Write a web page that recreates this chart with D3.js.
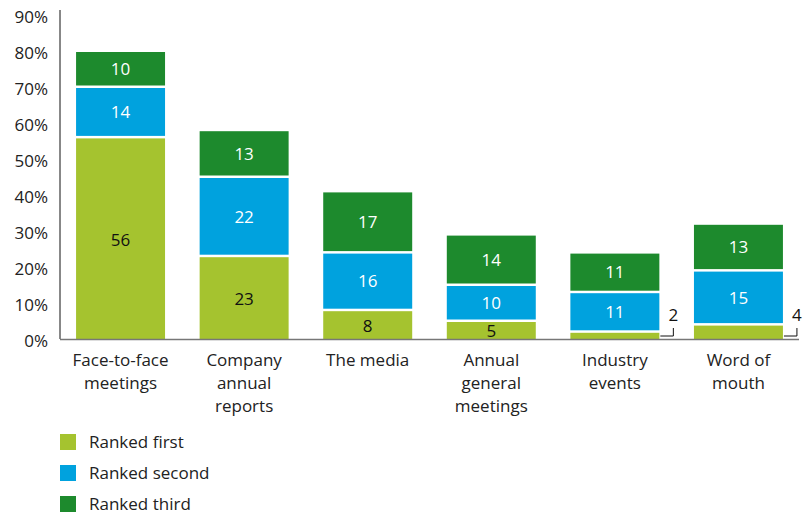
<!DOCTYPE html>
<html><head><meta charset="utf-8">
<script src="https://cdn.jsdelivr.net/npm/d3@7"></script>
<style>body{margin:0;background:#fff}svg{display:block}text{font-family:"Open Sans","Noto Sans",sans-serif}</style>
</head><body><svg id="c" width="811" height="515"></svg>
<script>
const categories = ["Face-to-face\nmeetings","Company\nannual\nreports","The media","Annual\ngeneral\nmeetings","Industry\nevents","Word of\nmouth"];
const seriesNames = ["Ranked first","Ranked second","Ranked third"];
const rankedFirst = [56,23,8,5,2,4];
const rankedSecond = [14,22,16,10,11,15];
const rankedThird = [10,13,17,14,11,13];
const yTicks = [0,10,20,30,40,50,60,70,80,90];
const colors = ["#a5c32f","#00a2de","#1d8a2d"];
const textColors = ["#111","#fff","#fff"];

const svg = d3.select("#c");
const m = {l:60, r:799, t:15, b:339};
const x = d3.scaleBand().domain(categories).range([m.l, m.r]).paddingInner(0.28).paddingOuter(0.13);
const y = d3.scaleLinear().domain([0,90]).range([m.b, m.t]);

const data = categories.map((c,i)=>({cat:c, s0:rankedFirst[i], s1:rankedSecond[i], s2:rankedThird[i]}));
const stack = d3.stack().keys(["s0","s1","s2"])(data);

const g = svg.append("g");
stack.forEach((layer,si)=>{
  layer.forEach((d,i)=>{
    const x0 = x(categories[i]), w = x.bandwidth();
    const y0 = y(d[0]), y1 = y(d[1]);
    const gapB = si===0 ? 0 : 1.5, gapT = 1;
    g.append("rect").attr("x",x0).attr("width",w)
      .attr("y",y1+gapT).attr("height",Math.max(0,y0-y1-gapT-gapB))
      .attr("fill",colors[si]);
    const v = d[1]-d[0];
    if (v >= 5) {
      g.append("text").attr("x",x0+w/2).attr("y",(y0+y1)/2+ (si===0?1.5:0)).attr("dy","0.35em")
        .attr("text-anchor","middle").attr("font-size",17).attr("fill",textColors[si]).text(v);
    } else {
      const bx = x0+w+1, by = y(0)-3;
      g.append("path").attr("d",`M${bx},${by}H${bx+13}V${by-8}`).attr("fill","none").attr("stroke","#111").attr("stroke-width",1);
      g.append("text").attr("x",bx+13).attr("y",by-21).attr("dy","0.35em")
        .attr("text-anchor","middle").attr("font-size",17).attr("fill","#111").text(v);
    }
  });
});

// axes
const yAxis = d3.axisLeft(y).tickValues(yTicks).tickSize(0).tickPadding(12).tickFormat(d=>d+"%");
const ya = svg.append("g").attr("transform",`translate(${m.l},0)`).call(yAxis);
ya.select(".domain").attr("d",`M0,${m.b}V10`).attr("stroke","#111");
ya.selectAll("text").attr("font-size",17).attr("fill","#222").attr("dy","0.45em").attr("font-family","'Open Sans',sans-serif");

svg.append("line").attr("x1",m.l).attr("x2",m.r).attr("y1",m.b+0.5).attr("y2",m.b+0.5).attr("stroke","#777").attr("stroke-width",1.5);

const xa = svg.append("g");
categories.forEach(c=>{
  const t = xa.append("text").attr("x",x(c)+x.bandwidth()/2).attr("y",366).attr("text-anchor","middle")
    .attr("font-size",17).attr("fill","#222");
  c.split("\n").forEach((ln,i)=>t.append("tspan").attr("x",x(c)+x.bandwidth()/2).attr("dy",i?23:0).text(ln));
});

// legend
const lg = svg.append("g");
seriesNames.forEach((s,i)=>{
  lg.append("rect").attr("x",60).attr("y",434+i*31).attr("width",16).attr("height",16).attr("fill",colors[i]);
  lg.append("text").attr("x",89).attr("y",442+i*31).attr("dy","0.35em").attr("font-size",17).attr("fill","#222").text(s);
});
</script></body></html>
